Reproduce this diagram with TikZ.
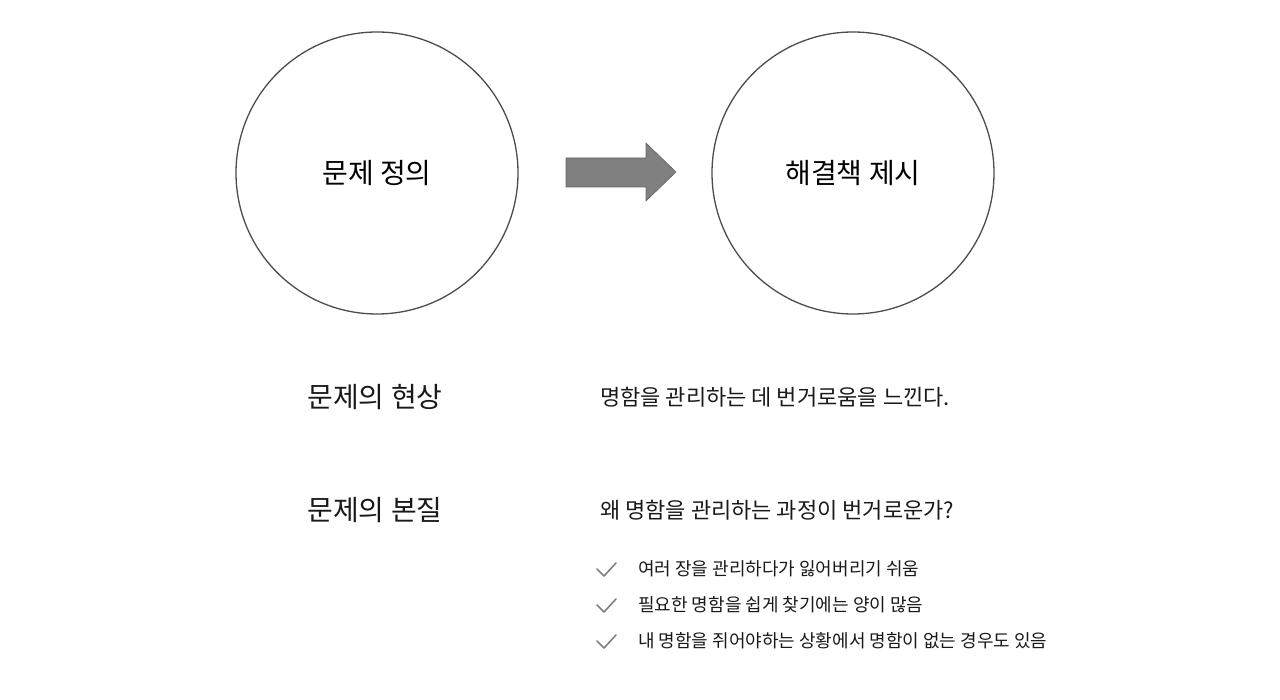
\documentclass[tikz,border=0pt]{standalone}
\usepackage{fontspec}
\setmainfont{Noto Sans CJK KR}
\begin{document}
\begin{tikzpicture}[x=1pt,y=-1pt,
  circ/.style={draw=black!70,line width=1.3pt,circle,minimum size=282pt,inner sep=0pt,font=\fontsize{28}{32}\selectfont},
  head/.style={font=\fontsize{28}{32}\selectfont,text=black!90,inner sep=0pt},
  body/.style={font=\fontsize{22}{26}\selectfont,text=black!90,inner sep=0pt,anchor=west},
  item/.style={font=\fontsize{18}{22}\selectfont,text=black!90,inner sep=0pt,anchor=west},
  chk/.style={draw=black!50,line width=1.6pt,line cap=round,line join=round}]
\useasboundingbox (0,0) rectangle (1280,700);
\node[circ] (c1) at (377,173) {문제 정의};
\node[circ] (c2) at (853,173) {해결책 제시};
\draw[fill=black!50,draw=black!60,line width=0.6pt] (566,158) -- (646,158) -- (646,143) -- (676,172) -- (646,201) -- (646,187) -- (566,187) -- cycle;
\node[head] (h1) at (375,397) {문제의 현상};
\node[head] (h2) at (375,510) {문제의 본질};
\node[body] (b1) at (600,397) {명함을 관리하는 데 번거로움을 느낀다.};
\node[body] (b2) at (600,510) {왜 명함을 관리하는 과정이 번거로운가?};
\foreach \y/\t in {569/{여러 장을 관리하다가 잃어버리기 쉬움},605/{필요한 명함을 쉽게 찾기에는 양이 많음},641/{내 명함을 쥐어야하는 상황에서 명함이 없는 경우도 있음}}{
  \draw[chk] (597,\y) -- (604,\y+7) -- (616,\y-6);
  \node[item] at (638,\y) {\t};
}
\end{tikzpicture}
\end{document}
